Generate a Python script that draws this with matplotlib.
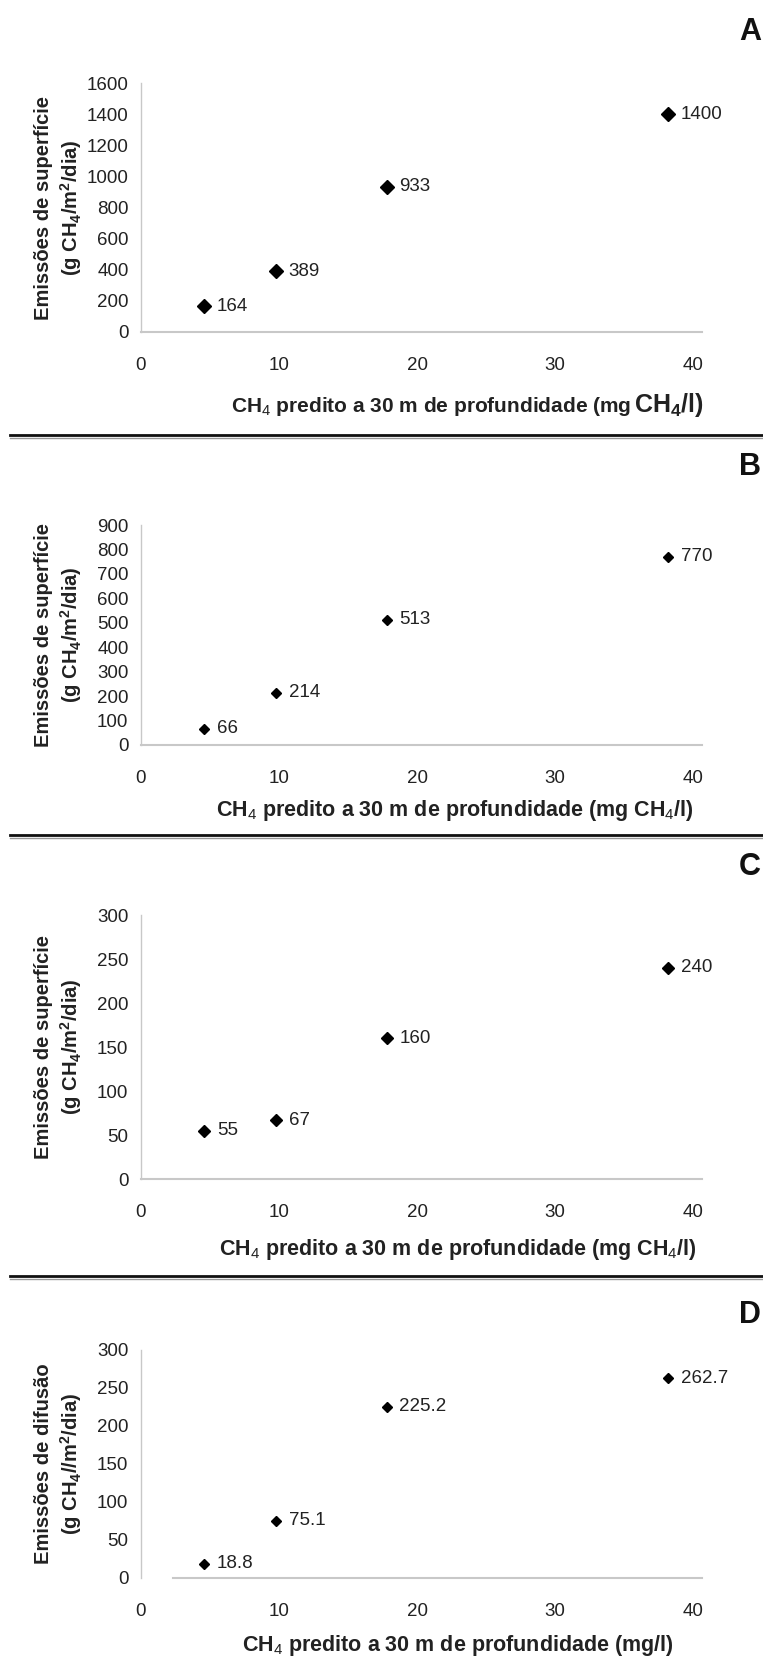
import matplotlib
matplotlib.use("Agg")
import matplotlib.pyplot as plt
from matplotlib.lines import Line2D

# figure size in pixels
W, H = 763, 1657

plt.rcParams["font.family"] = ["Liberation Sans", "DejaVu Sans"]
plt.rcParams["mathtext.fontset"] = "custom"
plt.rcParams["mathtext.rm"] = "Liberation Sans"
plt.rcParams["mathtext.it"] = "Liberation Sans:italic"
plt.rcParams["mathtext.bf"] = "Liberation Sans:bold"

# data
ch4_pred = [4.6, 9.8, 17.8, 38.2]          # CH4 predito a 30 m (mg CH4/l)
emis_A = [164, 389, 933, 1400]
emis_B = [66, 214, 513, 770]
emis_C = [55, 67, 160, 240]
emis_D = [18.8, 75.1, 225.2, 262.7]
lbl_A = ["164", "389", "933", "1400"]
lbl_B = ["66", "214", "513", "770"]
lbl_C = ["55", "67", "160", "240"]
lbl_D = ["18.8", "75.1", "225.2", "262.7"]

xticks = [0, 10, 20, 30, 40]
yticks_A = [0, 200, 400, 600, 800, 1000, 1200, 1400, 1600]
yticks_B = [0, 100, 200, 300, 400, 500, 600, 700, 800, 900]
yticks_C = [0, 50, 100, 150, 200, 250, 300]
yticks_D = [0, 50, 100, 150, 200, 250, 300]

ylab1_sup = "Emissões de superfície"
ylab2_sup = r"(g CH$_\mathbf{4}$/m$^\mathbf{2}$/dia)"
ylab1_dif = "Emissões de difusão"
ylab2_dif = r"(g CH$_\mathbf{4}$//m$^\mathbf{2}$/dia)"
xlab_mg = r"CH$_4$ predito a 30 m de profundidade (mg CH$_4$/l)"
xlab_D = r"CH$_4$ predito a 30 m de profundidade (mg/l)"

fig = plt.figure(figsize=(W / 100, H / 100), dpi=100)


def fx(px):
    return px / W


def fy(py):
    return 1 - py / H


# x = 0 at 141 px, 13.8 px per unit, axis line runs on to 702 px
AX_L, AX_R = 141, 702
XMAX = (AX_R - AX_L) / 13.8
GRAY = "#c8c8c8"
TXT = "#222222"


def panel(top, bottom, yvals, labels, yticks, letter, letter_y, ms, xspine_from=None):
    ax = fig.add_axes([fx(AX_L), fy(bottom), fx(AX_R) - fx(AX_L), (bottom - top) / H])
    ax.plot(ch4_pred, yvals, linestyle="none", marker="D", color="black", markersize=ms)
    for x, y, t in zip(ch4_pred, yvals, labels):
        ax.annotate(t, (x, y), xytext=(9, 0), textcoords="offset points",
                    va="center", ha="left", fontsize=13.5, color=TXT)
    ax.set_xlim(0, XMAX)
    ax.set_ylim(yticks[0], yticks[-1])
    ax.set_xticks(xticks)
    ax.set_yticks(yticks)
    ax.tick_params(axis="x", length=0, pad=18, labelsize=13.5, labelcolor=TXT)
    ax.tick_params(axis="y", length=0, pad=9, labelsize=13.5, labelcolor=TXT)
    for s in ["top", "right"]:
        ax.spines[s].set_visible(False)
    ax.spines["left"].set_color(GRAY)
    ax.spines["bottom"].set_color(GRAY)
    ax.spines["left"].set_linewidth(1.0)
    ax.spines["bottom"].set_linewidth(1.5)
    if xspine_from is not None:
        ax.spines["bottom"].set_bounds(xspine_from, XMAX)
    ax.patch.set_visible(False)
    fig.text(fx(750), fy(letter_y), letter, ha="center", va="center",
             fontsize=22, fontweight="bold", color="#111111")
    return ax


def ylabel(top, bottom, l1, l2):
    cy = fy((top + bottom) / 2)
    fig.text(fx(44), cy, l1, rotation=90, ha="center", va="center",
             fontsize=14.5, fontweight="bold", color=TXT)
    fig.text(fx(71), cy, l2, rotation=90, ha="center", va="center",
             fontsize=14.5, fontweight="bold", color=TXT)


def separator(y):
    fig.add_artist(Line2D([fx(10), 1], [fy(y), fy(y)], color="#111111", lw=2.0,
                          transform=fig.transFigure))
    fig.add_artist(Line2D([fx(10), 1], [fy(y + 3), fy(y + 3)], color="#999999", lw=1.0,
                          transform=fig.transFigure))


# A
panel(83, 332, emis_A, lbl_A, yticks_A, "A", 32, 7)
ylabel(83, 332, ylab1_sup, ylab2_sup)
fig.text(fx(633), fy(407), r"CH$_4$ predito a 30 m de profundidade (mg ", ha="right",
         va="center", fontsize=15, fontweight="bold", color=TXT)
fig.text(fx(634), fy(405), r"CH$_\mathbf{4}$/l)", ha="left", va="center",
         fontsize=18, fontweight="bold", color=TXT)
separator(435)

# B
panel(525, 745, emis_B, lbl_B, yticks_B, "B", 467, 5.5)
ylabel(525, 745, ylab1_sup, ylab2_sup)
fig.text(fx(455), fy(810), xlab_mg, ha="center", va="center",
         fontsize=15.5, fontweight="bold", color=TXT)
separator(835)

# C
panel(915, 1179, emis_C, lbl_C, yticks_C, "C", 867, 6)
ylabel(915, 1179, ylab1_sup, ylab2_sup)
fig.text(fx(458), fy(1250), xlab_mg, ha="center", va="center",
         fontsize=15.5, fontweight="bold", color=TXT)
separator(1276)

# D
panel(1350, 1578, emis_D, lbl_D, yticks_D, "D", 1315, 5, xspine_from=2.3)
ylabel(1350, 1578, ylab1_dif, ylab2_dif)
fig.text(fx(458), fy(1645), xlab_D, ha="center", va="center",
         fontsize=15.5, fontweight="bold", color=TXT)

fig.savefig("out.png", dpi=100)
